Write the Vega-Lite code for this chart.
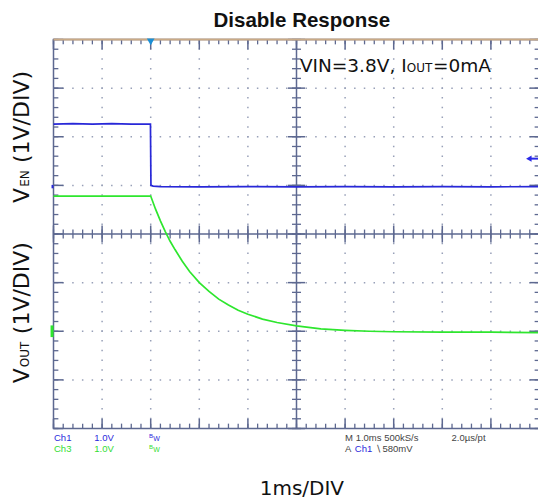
{
  "$schema": "https://vega.github.io/schema/vega-lite/v6.json",
  "width": 486,
  "height": 389,
  "autosize": {"type": "none"},
  "padding": {"left": 53.5, "top": 39.5, "right": 0, "bottom": 70.5},
  "background": "white",
  "config": {"view": {"stroke": "#5d6890", "strokeWidth": 1.5}},
  "datasets": {
    "mx": [{"t":0},{"t":0.2},{"t":0.4},{"t":0.6},{"t":0.8},{"t":1},{"t":1.2},{"t":1.4},{"t":1.6},{"t":1.8},{"t":2},{"t":2.2},{"t":2.4},{"t":2.6},{"t":2.8},{"t":3},{"t":3.2},{"t":3.4},{"t":3.6},{"t":3.8},{"t":4},{"t":4.2},{"t":4.4},{"t":4.6},{"t":4.8},{"t":5},{"t":5.2},{"t":5.4},{"t":5.6},{"t":5.8},{"t":6},{"t":6.2},{"t":6.4},{"t":6.6},{"t":6.8},{"t":7},{"t":7.2},{"t":7.4},{"t":7.6},{"t":7.8},{"t":8},{"t":8.2},{"t":8.4},{"t":8.6},{"t":8.8},{"t":9},{"t":9.2},{"t":9.4},{"t":9.6},{"t":9.8},{"t":10}],
    "my": [{"v":-4},{"v":-3.8},{"v":-3.6},{"v":-3.4},{"v":-3.2},{"v":-3},{"v":-2.8},{"v":-2.6},{"v":-2.4},{"v":-2.2},{"v":-2},{"v":-1.8},{"v":-1.6},{"v":-1.4},{"v":-1.2},{"v":-1},{"v":-0.8},{"v":-0.6},{"v":-0.4},{"v":-0.2},{"v":0},{"v":0.2},{"v":0.4},{"v":0.6},{"v":0.8},{"v":1},{"v":1.2},{"v":1.4},{"v":1.6},{"v":1.8},{"v":2},{"v":2.2},{"v":2.4},{"v":2.6},{"v":2.8},{"v":3},{"v":3.2},{"v":3.4},{"v":3.6},{"v":3.8},{"v":4}],
    "ix": [{"t":0},{"t":1},{"t":2},{"t":3},{"t":4},{"t":5},{"t":6},{"t":7},{"t":8},{"t":9},{"t":10}],
    "iy": [{"v":-4},{"v":-3},{"v":-2},{"v":-1},{"v":0},{"v":1},{"v":2},{"v":3},{"v":4}],
    "scope": [
      {"t":0,"v":2.26,"ch":"Ch1"},{"t":0.4,"v":2.27,"ch":"Ch1"},{"t":0.8,"v":2.26,"ch":"Ch1"},{"t":1.2,"v":2.27,"ch":"Ch1"},{"t":1.6,"v":2.26,"ch":"Ch1"},{"t":1.995,"v":2.26,"ch":"Ch1"},{"t":2.005,"v":1.0,"ch":"Ch1"},{"t":2.05,"v":0.985,"ch":"Ch1"},{"t":2.2,"v":0.975,"ch":"Ch1"},{"t":3,"v":0.97,"ch":"Ch1"},{"t":4,"v":0.975,"ch":"Ch1"},{"t":5,"v":0.97,"ch":"Ch1"},{"t":6,"v":0.975,"ch":"Ch1"},{"t":7,"v":0.97,"ch":"Ch1"},{"t":8,"v":0.975,"ch":"Ch1"},{"t":9,"v":0.97,"ch":"Ch1"},{"t":10,"v":0.975,"ch":"Ch1"},
      {"t":0,"v":0.78,"ch":"Ch3"},{"t":1,"v":0.78,"ch":"Ch3"},{"t":2.0,"v":0.78,"ch":"Ch3"},{"t":2.1,"v":0.51,"ch":"Ch3"},{"t":2.2,"v":0.27,"ch":"Ch3"},{"t":2.3,"v":0.05,"ch":"Ch3"},{"t":2.4,"v":-0.15,"ch":"Ch3"},{"t":2.5,"v":-0.32,"ch":"Ch3"},{"t":2.65,"v":-0.56,"ch":"Ch3"},{"t":2.8,"v":-0.77,"ch":"Ch3"},{"t":3.0,"v":-1.0,"ch":"Ch3"},{"t":3.2,"v":-1.18,"ch":"Ch3"},{"t":3.4,"v":-1.34,"ch":"Ch3"},{"t":3.6,"v":-1.46,"ch":"Ch3"},{"t":3.8,"v":-1.57,"ch":"Ch3"},{"t":4.0,"v":-1.65,"ch":"Ch3"},{"t":4.3,"v":-1.75,"ch":"Ch3"},{"t":4.6,"v":-1.82,"ch":"Ch3"},{"t":5.0,"v":-1.89,"ch":"Ch3"},{"t":5.5,"v":-1.95,"ch":"Ch3"},{"t":6.0,"v":-1.98,"ch":"Ch3"},{"t":6.5,"v":-2.0,"ch":"Ch3"},{"t":7.0,"v":-2.01,"ch":"Ch3"},{"t":8.0,"v":-2.02,"ch":"Ch3"},{"t":9.0,"v":-2.02,"ch":"Ch3"},{"t":10.0,"v":-2.03,"ch":"Ch3"}
    ]
  },
  "layer": [
    {"data": {"name": "ix"}, "transform": [{"filter": "datum.t > 0 && datum.t < 10 && datum.t != 5"}],
     "mark": {"type": "rule", "color": "#98a0b8", "strokeWidth": 1.5, "strokeDash": [1.5, 8.22], "strokeDashOffset": 0.75},
     "encoding": {"x": {"field": "t", "type": "quantitative", "scale": {"domain": [0, 10], "nice": false, "zero": false}, "axis": null},
                  "y": {"datum": 4, "scale": {"domain": [-4, 4], "nice": false, "zero": false}, "axis": null}, "y2": {"datum": -4}}},
    {"data": {"name": "iy"}, "transform": [{"filter": "datum.v > -4 && datum.v < 4 && datum.v != 0"}],
     "mark": {"type": "rule", "color": "#98a0b8", "strokeWidth": 1.5, "strokeDash": [1.5, 8.22], "strokeDashOffset": 0.75},
     "encoding": {"y": {"field": "v", "type": "quantitative", "axis": null}, "x": {"datum": 0, "axis": null}, "x2": {"datum": 10}}},
    {"data": {"values": [{}]}, "mark": {"type": "rule", "color": "#5d6890", "strokeWidth": 1.5},
     "encoding": {"x": {"datum": 5, "axis": null}, "y": {"datum": -4, "axis": null}, "y2": {"datum": 4}}},
    {"data": {"values": [{}]}, "mark": {"type": "rule", "color": "#5d6890", "strokeWidth": 1.5},
     "encoding": {"y": {"datum": 0, "axis": null}, "x": {"datum": 0, "axis": null}, "x2": {"datum": 10}}},
    {"data": {"name": "mx"}, "mark": {"type": "rule", "color": "#5d6890", "strokeWidth": 1.3},
     "encoding": {"x": {"field": "t", "type": "quantitative", "axis": null}, "y": {"datum": -0.092, "axis": null}, "y2": {"datum": 0.092}}},
    {"data": {"name": "ix"}, "mark": {"type": "rule", "color": "#5d6890", "strokeWidth": 1.5},
     "encoding": {"x": {"field": "t", "type": "quantitative", "axis": null}, "y": {"datum": -0.175, "axis": null}, "y2": {"datum": 0.175}}},
    {"data": {"name": "my"}, "mark": {"type": "rule", "color": "#5d6890", "strokeWidth": 1.3},
     "encoding": {"y": {"field": "v", "type": "quantitative", "axis": null}, "x": {"datum": 4.907, "axis": null}, "x2": {"datum": 5.093}}},
    {"data": {"name": "iy"}, "mark": {"type": "rule", "color": "#5d6890", "strokeWidth": 1.5},
     "encoding": {"y": {"field": "v", "type": "quantitative", "axis": null}, "x": {"datum": 4.825, "axis": null}, "x2": {"datum": 5.175}}},
    {"data": {"name": "mx"}, "mark": {"type": "rule", "color": "#5d6890", "strokeWidth": 1.3},
     "encoding": {"x": {"field": "t", "type": "quantitative", "axis": null}, "y": {"datum": 4, "axis": null}, "y2": {"datum": 3.9}}},
    {"data": {"name": "ix"}, "mark": {"type": "rule", "color": "#5d6890", "strokeWidth": 1.5},
     "encoding": {"x": {"field": "t", "type": "quantitative", "axis": null}, "y": {"datum": 4, "axis": null}, "y2": {"datum": 3.8}}},
    {"data": {"name": "mx"}, "mark": {"type": "rule", "color": "#5d6890", "strokeWidth": 1.3},
     "encoding": {"x": {"field": "t", "type": "quantitative", "axis": null}, "y": {"datum": -4, "axis": null}, "y2": {"datum": -3.9}}},
    {"data": {"name": "ix"}, "mark": {"type": "rule", "color": "#5d6890", "strokeWidth": 1.5},
     "encoding": {"x": {"field": "t", "type": "quantitative", "axis": null}, "y": {"datum": -4, "axis": null}, "y2": {"datum": -3.8}}},
    {"data": {"name": "my"}, "mark": {"type": "rule", "color": "#5d6890", "strokeWidth": 1.3},
     "encoding": {"y": {"field": "v", "type": "quantitative", "axis": null}, "x": {"datum": 0, "axis": null}, "x2": {"datum": 0.1}}},
    {"data": {"name": "iy"}, "mark": {"type": "rule", "color": "#5d6890", "strokeWidth": 1.5},
     "encoding": {"y": {"field": "v", "type": "quantitative", "axis": null}, "x": {"datum": 0, "axis": null}, "x2": {"datum": 0.2}}},
    {"data": {"name": "my"}, "mark": {"type": "rule", "color": "#5d6890", "strokeWidth": 1.3},
     "encoding": {"y": {"field": "v", "type": "quantitative", "axis": null}, "x": {"datum": 10, "axis": null}, "x2": {"datum": 9.9}}},
    {"data": {"name": "iy"}, "mark": {"type": "rule", "color": "#5d6890", "strokeWidth": 1.5},
     "encoding": {"y": {"field": "v", "type": "quantitative", "axis": null}, "x": {"datum": 10, "axis": null}, "x2": {"datum": 9.8}}},
    {"data": {"values": [{}]}, "mark": {"type": "rule", "color": "#c9aa86", "strokeWidth": 2},
     "encoding": {"y": {"datum": 4, "axis": null}, "x": {"datum": 0, "axis": null}, "x2": {"datum": 10}}},
    {"data": {"name": "scope"}, "mark": {"type": "line", "strokeWidth": 1.7, "interpolate": "linear"},
     "encoding": {"x": {"field": "t", "type": "quantitative", "axis": null}, "y": {"field": "v", "type": "quantitative", "axis": null},
                  "color": {"field": "ch", "type": "nominal", "scale": {"domain": ["Ch1", "Ch3"], "range": ["#2828d8", "#2ee62e"]}, "legend": null}}},
    {"data": {"values": [{}]}, "mark": {"type": "point", "shape": "triangle-down", "filled": true, "size": 60, "color": "#1b8fd6", "opacity": 1},
     "encoding": {"x": {"datum": 2, "axis": null}, "y": {"datum": 3.95, "axis": null}}},
    {"data": {"values": [{}]}, "mark": {"type": "point", "shape": "triangle-left", "filled": true, "size": 40, "color": "#2a2ae8", "opacity": 1},
     "encoding": {"x": {"datum": 9.78, "axis": null}, "y": {"datum": 1.55, "axis": null}}},
    {"data": {"values": [{}]}, "mark": {"type": "rule", "color": "#2a2ae8", "strokeWidth": 2},
     "encoding": {"y": {"datum": 1.55, "axis": null}, "x": {"datum": 9.8, "axis": null}, "x2": {"datum": 10.05}}},
    {"data": {"values": [{}]}, "mark": {"type": "rule", "color": "#2ee62e", "strokeWidth": 3},
     "encoding": {"x": {"datum": -0.03, "axis": null}, "y": {"datum": -2.12, "axis": null}, "y2": {"datum": -1.88}}},
    {"data": {"values": [{}]}, "mark": {"type": "rule", "color": "#2828d8", "strokeWidth": 2},
     "encoding": {"x": {"datum": -0.02, "axis": null}, "y": {"datum": 0.94, "axis": null}, "y2": {"datum": 1.01}}},
    {"data": {"values": [{}]}, "mark": {"type": "text", "text": "Disable Response", "font": "Liberation Sans", "fontSize": 20.5, "fontWeight": "bold", "align": "center", "baseline": "alphabetic", "color": "#111111"},
     "encoding": {"x": {"datum": 5.11, "axis": null}, "y": {"datum": 4.255, "axis": null}}},
    {"data": {"values": [{}]}, "mark": {"type": "text", "text": "VIN=3.8V, I", "font": "DejaVu Sans", "fontSize": 18.5, "align": "left", "baseline": "alphabetic", "color": "#111111"},
     "encoding": {"x": {"datum": 5.07, "axis": null}, "y": {"datum": 3.34, "axis": null}}},
    {"data": {"values": [{}]}, "mark": {"type": "text", "text": "OUT", "font": "DejaVu Sans", "fontSize": 12, "align": "left", "baseline": "alphabetic", "color": "#111111"},
     "encoding": {"x": {"datum": 7.27, "axis": null}, "y": {"datum": 3.34, "axis": null}}},
    {"data": {"values": [{}]}, "mark": {"type": "text", "text": "=0mA", "font": "DejaVu Sans", "fontSize": 18.5, "align": "left", "baseline": "alphabetic", "color": "#111111"},
     "encoding": {"x": {"datum": 7.81, "axis": null}, "y": {"datum": 3.34, "axis": null}}},
    {"data": {"values": [{}]}, "mark": {"type": "text", "text": "V", "angle": 270, "font": "DejaVu Sans", "fontSize": 22, "align": "left", "baseline": "alphabetic", "color": "#111111"},
     "encoding": {"x": {"datum": -0.504, "axis": null}, "y": {"datum": 0.64, "axis": null}}},
    {"data": {"values": [{}]}, "mark": {"type": "text", "text": "EN", "angle": 270, "font": "DejaVu Sans", "fontSize": 12, "align": "left", "baseline": "alphabetic", "color": "#111111"},
     "encoding": {"x": {"datum": -0.504, "axis": null}, "y": {"datum": 0.97, "axis": null}}},
    {"data": {"values": [{}]}, "mark": {"type": "text", "text": "(1V/DIV)", "angle": 270, "font": "DejaVu Sans", "fontSize": 22, "align": "left", "baseline": "alphabetic", "color": "#111111"},
     "encoding": {"x": {"datum": -0.504, "axis": null}, "y": {"datum": 1.46, "axis": null}}},
    {"data": {"values": [{}]}, "mark": {"type": "text", "text": "V", "angle": 270, "font": "DejaVu Sans", "fontSize": 22, "align": "left", "baseline": "alphabetic", "color": "#111111"},
     "encoding": {"x": {"datum": -0.504, "axis": null}, "y": {"datum": -3.07, "axis": null}}},
    {"data": {"values": [{}]}, "mark": {"type": "text", "text": "OUT", "angle": 270, "font": "DejaVu Sans", "fontSize": 12, "align": "left", "baseline": "alphabetic", "color": "#111111"},
     "encoding": {"x": {"datum": -0.504, "axis": null}, "y": {"datum": -2.74, "axis": null}}},
    {"data": {"values": [{}]}, "mark": {"type": "text", "text": "(1V/DIV)", "angle": 270, "font": "DejaVu Sans", "fontSize": 22, "align": "left", "baseline": "alphabetic", "color": "#111111"},
     "encoding": {"x": {"datum": -0.504, "axis": null}, "y": {"datum": -2.06, "axis": null}}},
    {"data": {"values": [{}]}, "mark": {"type": "text", "text": "1ms/DIV", "font": "DejaVu Sans", "fontSize": 20, "align": "center", "baseline": "alphabetic", "color": "#111111"},
     "encoding": {"x": {"datum": 5.11, "axis": null}, "y": {"datum": -5.37, "axis": null}}},
    {"data": {"values": [{}]}, "mark": {"type": "text", "text": "Ch1", "font": "Liberation Sans", "fontSize": 9.5, "align": "left", "baseline": "alphabetic", "color": "#2b2bdc"},
     "encoding": {"x": {"datum": 0.01, "axis": null}, "y": {"datum": -4.26, "axis": null}}},
    {"data": {"values": [{}]}, "mark": {"type": "text", "text": "1.0V", "font": "Liberation Sans", "fontSize": 9.5, "align": "left", "baseline": "alphabetic", "color": "#2b2bdc"},
     "encoding": {"x": {"datum": 0.84, "axis": null}, "y": {"datum": -4.26, "axis": null}}},
    {"data": {"values": [{}]}, "mark": {"type": "text", "text": "B", "font": "Liberation Sans", "fontSize": 6, "align": "left", "baseline": "alphabetic", "color": "#2b2bdc"},
     "encoding": {"x": {"datum": 1.965, "axis": null}, "y": {"datum": -4.19, "axis": null}}},
    {"data": {"values": [{}]}, "mark": {"type": "text", "text": "W", "font": "Liberation Sans", "fontSize": 7, "align": "left", "baseline": "alphabetic", "color": "#2b2bdc"},
     "encoding": {"x": {"datum": 2.05, "axis": null}, "y": {"datum": -4.26, "axis": null}}},
    {"data": {"values": [{}]}, "mark": {"type": "text", "text": "Ch3", "font": "Liberation Sans", "fontSize": 9.5, "align": "left", "baseline": "alphabetic", "color": "#33dd33"},
     "encoding": {"x": {"datum": 0.01, "axis": null}, "y": {"datum": -4.49, "axis": null}}},
    {"data": {"values": [{}]}, "mark": {"type": "text", "text": "1.0V", "font": "Liberation Sans", "fontSize": 9.5, "align": "left", "baseline": "alphabetic", "color": "#33dd33"},
     "encoding": {"x": {"datum": 0.84, "axis": null}, "y": {"datum": -4.49, "axis": null}}},
    {"data": {"values": [{}]}, "mark": {"type": "text", "text": "B", "font": "Liberation Sans", "fontSize": 6, "align": "left", "baseline": "alphabetic", "color": "#33dd33"},
     "encoding": {"x": {"datum": 1.965, "axis": null}, "y": {"datum": -4.42, "axis": null}}},
    {"data": {"values": [{}]}, "mark": {"type": "text", "text": "W", "font": "Liberation Sans", "fontSize": 7, "align": "left", "baseline": "alphabetic", "color": "#33dd33"},
     "encoding": {"x": {"datum": 2.05, "axis": null}, "y": {"datum": -4.49, "axis": null}}},
    {"data": {"values": [{}]}, "mark": {"type": "text", "text": "M 1.0ms 500kS/s", "font": "Liberation Sans", "fontSize": 9.5, "align": "left", "baseline": "alphabetic", "color": "#444444"},
     "encoding": {"x": {"datum": 6.0, "axis": null}, "y": {"datum": -4.26, "axis": null}}},
    {"data": {"values": [{}]}, "mark": {"type": "text", "text": "2.0µs/pt", "font": "Liberation Sans", "fontSize": 9.5, "align": "left", "baseline": "alphabetic", "color": "#444444"},
     "encoding": {"x": {"datum": 8.19, "axis": null}, "y": {"datum": -4.26, "axis": null}}},
    {"data": {"values": [{}]}, "mark": {"type": "text", "text": "A", "font": "Liberation Sans", "fontSize": 9.5, "align": "left", "baseline": "alphabetic", "color": "#444444"},
     "encoding": {"x": {"datum": 6.0, "axis": null}, "y": {"datum": -4.49, "axis": null}}},
    {"data": {"values": [{}]}, "mark": {"type": "text", "text": "Ch1", "font": "Liberation Sans", "fontSize": 9.5, "align": "left", "baseline": "alphabetic", "color": "#2b2bdc"},
     "encoding": {"x": {"datum": 6.2, "axis": null}, "y": {"datum": -4.49, "axis": null}}},
    {"data": {"values": [{}]}, "mark": {"type": "text", "text": "∖", "font": "DejaVu Sans", "fontSize": 9.5, "align": "left", "baseline": "alphabetic", "color": "#444444"},
     "encoding": {"x": {"datum": 6.62, "axis": null}, "y": {"datum": -4.49, "axis": null}}},
    {"data": {"values": [{}]}, "mark": {"type": "text", "text": "580mV", "font": "Liberation Sans", "fontSize": 9.5, "align": "left", "baseline": "alphabetic", "color": "#444444"},
     "encoding": {"x": {"datum": 6.77, "axis": null}, "y": {"datum": -4.49, "axis": null}}}
  ]
}
